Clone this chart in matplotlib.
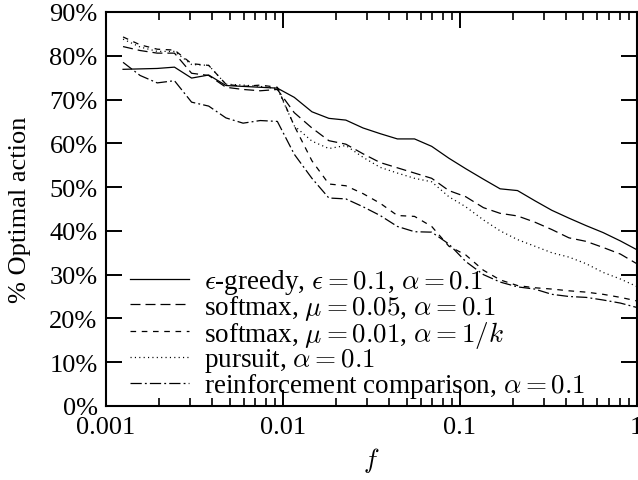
import matplotlib
matplotlib.use("Agg")
import matplotlib.pyplot as plt
from matplotlib.ticker import LogLocator, NullFormatter

plt.rcParams['font.family'] = ['Liberation Serif', 'DejaVu Serif']
plt.rcParams['mathtext.fontset'] = 'cm'

f = [0.00125, 0.00156, 0.00195, 0.00244, 0.00305, 0.00381, 0.00477, 0.00596,
     0.00745, 0.00931, 0.0116, 0.0146, 0.0182, 0.0227, 0.0284, 0.0355, 0.0444,
     0.0555, 0.0694, 0.0867, 0.108, 0.136, 0.169, 0.212, 0.265, 0.331, 0.414,
     0.517, 0.646, 0.808, 1.0]

greedy = [76.9, 77.0, 77.1, 77.4, 74.9, 75.6, 73.2, 73.0, 72.8, 72.6, 70.5, 67.2,
          65.7, 65.3, 63.5, 62.2, 61.0, 61.0, 59.3, 56.6, 54.2, 51.8, 49.6, 49.2,
          46.9, 44.7, 42.9, 41.2, 39.6, 37.7, 35.7]
softmax_005 = [82.1, 81.2, 80.6, 80.6, 76.0, 75.5, 72.8, 72.3, 72.0, 72.3, 67.0, 63.5,
               60.6, 59.8, 57.6, 55.6, 54.4, 53.2, 52.0, 49.2, 47.8, 45.3, 44.0, 43.4,
               42.0, 40.3, 38.4, 37.6, 36.2, 34.7, 32.5]
softmax_001 = [84.3, 82.5, 81.5, 81.3, 78.2, 77.8, 73.5, 73.0, 73.3, 72.8, 64.0, 56.0,
               50.7, 50.3, 48.5, 46.3, 43.5, 43.3, 41.0, 36.5, 34.5, 31.0, 28.8, 27.5,
               27.0, 26.7, 26.3, 26.0, 25.5, 24.8, 24.0]
pursuit = [83.8, 82.0, 81.0, 81.0, 78.0, 77.8, 73.5, 73.3, 73.0, 72.5, 64.0, 60.5,
           58.8, 59.5, 56.8, 54.5, 53.2, 52.0, 51.2, 47.8, 45.5, 42.5, 40.0, 38.0,
           36.5, 35.0, 34.0, 32.5, 30.5, 29.0, 27.3]
reinf = [78.5, 75.5, 73.8, 74.3, 69.4, 68.5, 65.8, 64.6, 65.2, 65.0, 57.5, 52.0,
         47.5, 47.3, 45.5, 43.5, 41.0, 39.8, 39.7, 37.0, 33.0, 30.0, 28.3, 27.2,
         26.7, 25.5, 25.0, 24.8, 24.2, 23.5, 22.5]

labels = [r'$\epsilon$-greedy, $\epsilon = 0.1$, $\alpha = 0.1$',
          r'softmax, $\mu = 0.05$, $\alpha = 0.1$',
          r'softmax, $\mu = 0.01$, $\alpha = 1/k$',
          r'pursuit, $\alpha = 0.1$',
          r'reinforcement comparison, $\alpha = 0.1$']
xtick_vals = [0.001, 0.01, 0.1, 1]
xtick_labels = ['0.001', '0.01', '0.1', '1']
ytick_vals = list(range(0, 91, 10))
ytick_labels = [f'{v}%' for v in ytick_vals]

series = [greedy, softmax_005, softmax_001, pursuit, reinf]
dash_styles = [None, (8, 4), (4.5, 4.5), (0.9, 2.6), (9, 2.5, 1.5, 2.5)]

fig = plt.figure(figsize=(6.38, 4.81), dpi=100)
ax = fig.add_axes([0.166, 0.154, 0.832, 0.819])

for ys, lab, ds in zip(series, labels, dash_styles):
    line, = ax.plot(f, ys, color='black', lw=0.9, label=lab)
    if ds is not None:
        line.set_dashes(ds)

ax.set_xscale('log')
ax.set_xlim(0.001, 1)
ax.set_ylim(0, 90)
ax.set_xticks(xtick_vals)
ax.set_xticklabels(xtick_labels)
ax.xaxis.set_minor_locator(LogLocator(base=10, subs=range(2, 10)))
ax.xaxis.set_minor_formatter(NullFormatter())
ax.set_yticks(ytick_vals)
ax.set_yticklabels(ytick_labels)

ax.tick_params(which='major', direction='in', length=11.5, width=1.4,
               top=True, right=True, labelsize=19)
ax.tick_params(axis='x', which='major', pad=7)
ax.tick_params(axis='y', which='major', pad=6)
ax.tick_params(which='minor', direction='in', length=5.5, width=1.2,
               top=True, right=True)
for s in ax.spines.values():
    s.set_linewidth(1.5)

ax.set_xlabel(r'$f$', fontsize=19, labelpad=5)
ax.set_ylabel('% Optimal action', fontsize=19, labelpad=13)

leg = ax.legend(loc='lower left', frameon=False, fontsize=19.5, handlelength=2.2,
                handletextpad=0.55, labelspacing=-0.12, borderaxespad=0.0,
                borderpad=0.0, bbox_to_anchor=(0.045, 0.015))

fig.savefig('out.png', dpi=100)
